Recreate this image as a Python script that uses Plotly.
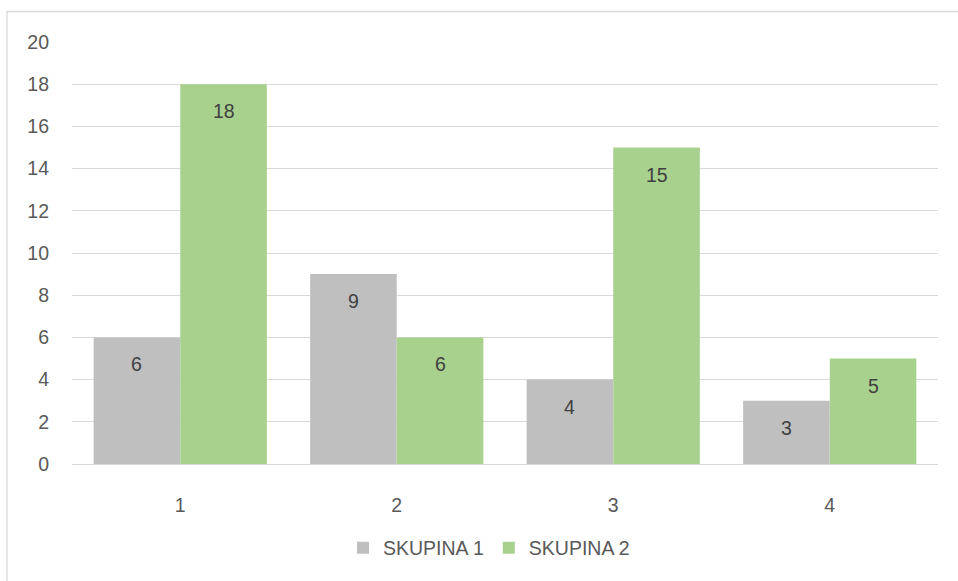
import plotly.graph_objects as go

categories = [1, 2, 3, 4]
skupina1 = [6, 9, 4, 3]
skupina2 = [18, 6, 15, 5]
series_names = ["SKUPINA 1", "SKUPINA 2"]
y_ticks = [0, 2, 4, 6, 8, 10, 12, 14, 16, 18, 20]

W, H = 958, 581
L, R, T, B = 72, 20, 42, 117
pw, ph = W - L - R, H - T - B

FONT = "Liberation Sans"
FS = 19.5
TXT = "#404040"
TICK = "#595959"
GRID = "#D9D9D9"

fig = go.Figure()
fig.add_trace(go.Bar(x=categories, y=skupina1, name=series_names[0],
                     marker=dict(color="#BFBFBF", line=dict(width=0))))
fig.add_trace(go.Bar(x=categories, y=skupina2, name=series_names[1],
                     marker=dict(color="#A9D18E", line=dict(width=0))))

bar_w = 0.8 / 2
for vals, sgn in ((skupina1, -1), (skupina2, 1)):
    for c, v in zip(categories, vals):
        fig.add_annotation(x=c + sgn * bar_w / 2, y=v, xref="x", yref="y", text=str(v),
                           showarrow=False, yshift=-27,
                           font=dict(family=FONT, size=FS, color=TXT))

# chart border
fig.add_shape(type="rect", xref="paper", yref="paper",
              x0=(7 - L) / pw, x1=(W + 5 - L) / pw,
              y0=(T + ph - (H + 10)) / ph, y1=(T + ph - 11.5) / ph,
              line=dict(color=GRID, width=1.3), fillcolor="rgba(0,0,0,0)", layer="below")

fig.update_layout(
    width=W, height=H,
    margin=dict(l=L, r=R, t=T, b=B),
    paper_bgcolor="white", plot_bgcolor="white",
    barmode="group", bargap=0.2, bargroupgap=0,
    font=dict(family=FONT, size=FS, color=TICK),
    showlegend=True,
    legend=dict(orientation="h", x=0.5 - 16 / pw, xanchor="center", y=(T + ph - 548) / ph,
                yanchor="middle", font=dict(family=FONT, size=FS, color=TICK), itemwidth=30,
                traceorder="normal"),
    xaxis=dict(range=[0.5, 4.5], tickvals=categories, ticktext=[str(c) for c in categories],
               showgrid=False, showline=True, linecolor=GRID, linewidth=1.3, zeroline=False,
               ticks="", ticklabelstandoff=23, tickfont=dict(size=FS, color=TICK)),
    yaxis=dict(range=[0, 20], tickvals=y_ticks, showgrid=True, gridcolor=GRID, gridwidth=1.3,
               zeroline=False, showline=False, ticks="", ticklabelstandoff=22,
               tickfont=dict(size=FS, color=TICK)),
)

fig.write_html("out.html")
